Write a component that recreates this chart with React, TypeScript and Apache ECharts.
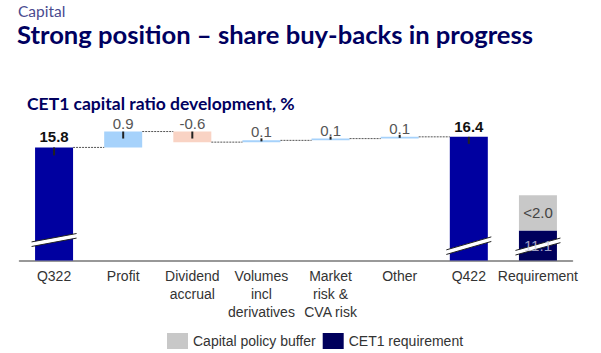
import React, { useEffect, useRef } from 'react';
import * as echarts from 'echarts';

const categories = ['Q322', 'Profit', 'Dividend\naccrual', 'Volumes\nincl\nderivatives', 'Market\nrisk &\nCVA risk', 'Other', 'Q422', 'Requirement'];
const startRatio = 15.8;
const changes = [0.9, -0.6, 0.1, 0.1, 0.1];
const endRatio = 16.4;
const cet1Requirement = 11.1;
const capitalPolicyBuffer = 2.0;
const bufferLabel = '<2.0';
// axis break decoration: [category index, level, half rise]
const breakMarks = [[0, 10.56, 4.2], [6, 10.24, 6.5], [7, 10.19, 6.2]];

const Y_MIN = 9.4;
const Y_MAX = 18.4;
const FONT = "'Liberation Sans', Arial, sans-serif";
const TITLE_FONT = "Lato, 'Liberation Sans', sans-serif";

export default function App() {
  const ref = useRef<HTMLDivElement>(null);
  useEffect(() => {
    document.body.style.margin = '0';
    const chart = echarts.init(ref.current!, null, { renderer: 'svg' });
    const n = categories.length;
    const baseData: any[] = Array(n).fill('-');
    const deltaData: any[] = Array(n).fill('-');
    const totalData: any[] = Array(n).fill('-');
    const reqData: any[] = Array(n).fill('-');
    const bufData: any[] = Array(n).fill('-');
    const levels: number[] = [startRatio];
    const ticks: any[] = [];
    totalData[0] = startRatio;
    ticks.push({ value: [0, startRatio], symbolSize: [2, 8], symbolOffset: [0, 4] });
    let lvl = startRatio;
    changes.forEach((c, k) => {
      const i = k + 1;
      const next = Math.round((lvl + c) * 10) / 10;
      baseData[i] = Math.min(lvl, next);
      deltaData[i] = {
        value: Math.abs(c),
        itemStyle: { color: c >= 0 ? '#a6d2fb' : '#f9d3c4' },
      };
      const top = Math.max(lvl, next);
      const small = Math.abs(c) < 0.2;
      ticks.push({ value: [i, top], symbolSize: small ? [2, 3] : [2, 7], symbolOffset: small ? [0, -0.5] : [0, 3.5] });
      lvl = next;
      levels.push(lvl);
    });
    totalData[6] = endRatio;
    ticks.push({ value: [6, endRatio], symbolSize: [2, 7], symbolOffset: [0, 3.5] });
    reqData[7] = cet1Requirement;
    bufData[7] = capitalPolicyBuffer;
    const connectors = levels.map((v, i) => [i, v]);

    chart.setOption({
      animation: false,
      title: [
        { text: 'Capital', left: 18, top: 3, padding: 0, textStyle: { fontSize: 15.5, lineHeight: 15, fontWeight: 'normal', color: '#4a4a8f', fontFamily: TITLE_FONT } },
        { text: 'Strong position – share buy-backs in progress', left: 17, top: 22, padding: 0, textStyle: { fontSize: 25.6, lineHeight: 24, fontWeight: 'bold', color: '#00005f', fontFamily: TITLE_FONT } },
        { text: 'CET1 capital ratio development, %', left: 27, top: 96, padding: 0, textStyle: { fontSize: 17.5, lineHeight: 15, fontWeight: 'bold', color: '#00005f', fontFamily: TITLE_FONT } },
      ],
      legend: {
        data: ['Capital policy buffer', 'CET1 requirement'],
        left: 162,
        top: 328,
        itemWidth: 21,
        itemHeight: 16,
        itemGap: 7,
        icon: 'rect',
        textStyle: { fontSize: 14, color: '#333', fontFamily: FONT },
      },
      grid: { left: 19.5, right: 28.5, top: 101.5, bottom: 92.5 },
      xAxis: {
        type: 'category',
        data: categories,
        axisLine: { lineStyle: { color: '#777', width: 1.5 } },
        axisTick: { show: false },
        axisLabel: { fontSize: 14, color: '#333', lineHeight: 17.7, margin: 7, interval: 0, fontFamily: FONT },
      },
      yAxis: { type: 'value', min: Y_MIN, max: Y_MAX, show: false, splitLine: { show: false } },
      series: [
        { name: 'base', type: 'bar', stack: 'w', barWidth: 38, data: baseData, itemStyle: { color: 'transparent' }, silent: true },
        {
          name: 'delta', type: 'bar', stack: 'w', barWidth: 38, data: deltaData,
          label: {
            show: true, position: 'top', distance: 2, fontSize: 15, lineHeight: 13, color: '#555', fontFamily: FONT,
            formatter: (p: any) => { const c = changes[p.dataIndex - 1]; return c.toFixed(1); },
          },
        },
        {
          name: 'total', type: 'bar', stack: 'w', barWidth: 38, data: totalData, itemStyle: { color: '#0000a0' },
          label: { show: true, position: 'top', distance: 3, fontSize: 15, fontWeight: 'bold', color: '#111', fontFamily: FONT, formatter: (p: any) => p.value.toFixed(1) },
        },
        { name: 'CET1 requirement', type: 'bar', stack: 'w', barWidth: 38, data: reqData, itemStyle: { color: '#00005c' } },
        {
          name: 'Capital policy buffer', type: 'bar', stack: 'w', barWidth: 38, data: bufData, itemStyle: { color: '#c8c8c8' },
          label: { show: true, position: 'inside', fontSize: 15, color: '#444', fontFamily: FONT, formatter: () => bufferLabel },
        },
        {
          name: 'connectors', type: 'custom', z: 3, silent: true, data: connectors,
          renderItem: (params: any, api: any) => {
            const i = api.value(0);
            const v = api.value(1);
            if (i >= n - 2) return null;
            const p1 = api.coord([i, v]);
            const p2 = api.coord([i + 1, v]);
            const hw = 19;
            return { type: 'line', shape: { x1: p1[0] + hw, y1: p1[1], x2: p2[0] - hw, y2: p1[1] }, style: { stroke: '#555', lineWidth: 1, lineDash: [2, 1] } };
          },
        },
        {
          name: 'ticks', type: 'scatter', z: 4, silent: true, symbol: 'rect', data: ticks, itemStyle: { color: '#222', opacity: 1 },
        },
        {
          name: 'breaks', type: 'custom', z: 5, silent: true, data: breakMarks,
          renderItem: (params: any, api: any) => {
            const i = api.value(0);
            const v = api.value(1);
            const r = api.value(2);
            const [cx, cy] = api.coord([i, v]);
            const hw = 22.5;
            const g = 2.3;
            return {
              type: 'group',
              children: [
                { type: 'polygon', shape: { points: [[cx - hw, cy + r - g], [cx + hw, cy - r - g], [cx + hw, cy - r + g], [cx - hw, cy + r + g]] }, style: { fill: '#fff' } },
                { type: 'line', shape: { x1: cx - hw, y1: cy + r - g, x2: cx + hw, y2: cy - r - g }, style: { stroke: '#222', lineWidth: 1 } },
                { type: 'line', shape: { x1: cx - hw, y1: cy + r + g, x2: cx + hw, y2: cy - r + g }, style: { stroke: '#222', lineWidth: 1 } },
              ],
            };
          },
        },
        {
          name: 'reqLabel', type: 'scatter', z: 6, silent: true, symbolSize: 0,
          data: [[7, (Y_MIN + cet1Requirement) / 2]],
          label: { show: true, position: 'inside', fontSize: 15, color: '#c8c8e0', fontFamily: FONT, formatter: () => cet1Requirement.toFixed(1) },
        },
      ],
    });
    return () => chart.dispose();
  }, []);
  return <div ref={ref} style={{ width: 601, height: 353 }} />;
}
